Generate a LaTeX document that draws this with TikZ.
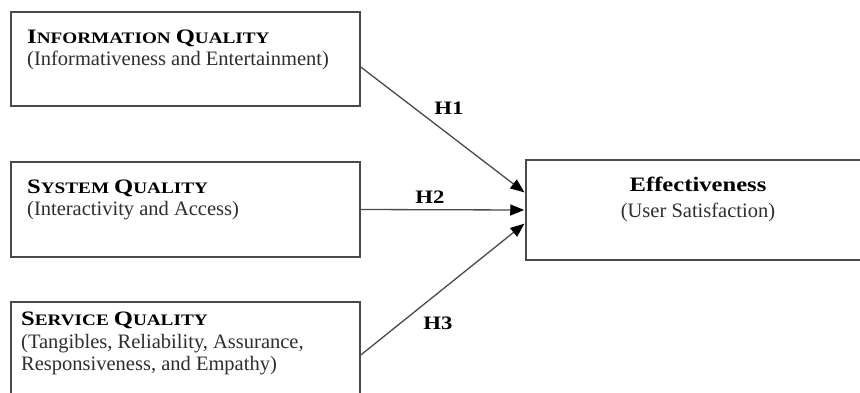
\documentclass[tikz,border=0pt]{standalone}
\usepackage{fontspec}
\setmainfont{Liberation Serif}
\newfontfamily\bft{Liberation Serif Bold}[FakeStretch=1.2]
\usetikzlibrary{arrows.meta}
\definecolor{linegray}{HTML}{4A4A4A}
\definecolor{textgray}{HTML}{2E2E2E}
% bold title with hand-made small capitals
\newcommand\capword[2]{{\fontsize{20.5}{24}\selectfont #1}{\fontsize{16}{19}\selectfont #2}}
\tikzset{
  box/.style={draw=linegray, line width=1.5pt, rectangle, inner sep=0pt},
  title/.style={anchor=base west, inner sep=0pt, font=\bft, text=black},
  sub/.style={anchor=base west, inner sep=0pt, font=\fontsize{20.5}{24}\selectfont, text=textgray},
  link/.style={draw=linegray, line width=1.3pt, -{Triangle[length=14pt,width=11pt,color=black]}, shorten >=1pt},
  hyp/.style={inner sep=0pt, font=\bft\fontsize{19}{22}\selectfont, text=black}
}
\begin{document}
\begin{tikzpicture}[x=1pt,y=-1pt]
\useasboundingbox (0,0) rectangle (860,392);
\clip (0,0) rectangle (860,392);
\fill[white] (0,0) rectangle (860,392);

% predictor boxes
\node[box, minimum width=349pt, minimum height=94pt] (b1) at (185.5,59) {};
\node[box, minimum width=349pt, minimum height=95pt] (b2) at (185.5,209.5) {};
\node[box, minimum width=349pt, minimum height=95pt] (b3) at (185.5,349.5) {};
% outcome box
\node[box, minimum width=344pt, minimum height=100pt] (eff) at (698,210) {};

% box texts
\node[title] (t1) at (27,43) {\capword{I}{NFORMATION}\hspace{5pt}\capword{Q}{UALITY}};
\node[sub] (s1) at (27,65) {(Informativeness and Entertainment)};
\node[title] (t2) at (27,193) {\capword{S}{YSTEM}\hspace{5pt}\capword{Q}{UALITY}};
\node[sub] (s2) at (27,215) {(Interactivity and Access)};
\node[title] (t3) at (21,325) {\capword{S}{ERVICE}\hspace{5pt}\capword{Q}{UALITY}};
\node[sub] (s3a) at (21,348) {(Tangibles, Reliability, Assurance,};
\node[sub] (s3b) at (21,370) {Responsiveness, and Empathy)};
\node[anchor=base, inner sep=0pt, font=\bft\fontsize{20.5}{24}\selectfont] (te) at (698,191) {Effectiveness};
\node[anchor=base, inner sep=0pt, font=\fontsize{20.5}{24}\selectfont, text=textgray] (se) at (698,217) {(User Satisfaction)};

% hypotheses
\draw[link] ([yshift=-8pt]b1.east) -- ([yshift=17pt]eff.west);
\draw[link] (b2.east) -- (eff.west);
\draw[link] ([yshift=-5.5pt]b3.east) -- ([yshift=-13pt]eff.west);

\node[hyp] (h1) at (449,108) {H1};
\node[hyp] (h2) at (430,197) {H2};
\node[hyp] (h3) at (438,323) {H3};
\end{tikzpicture}
\end{document}
